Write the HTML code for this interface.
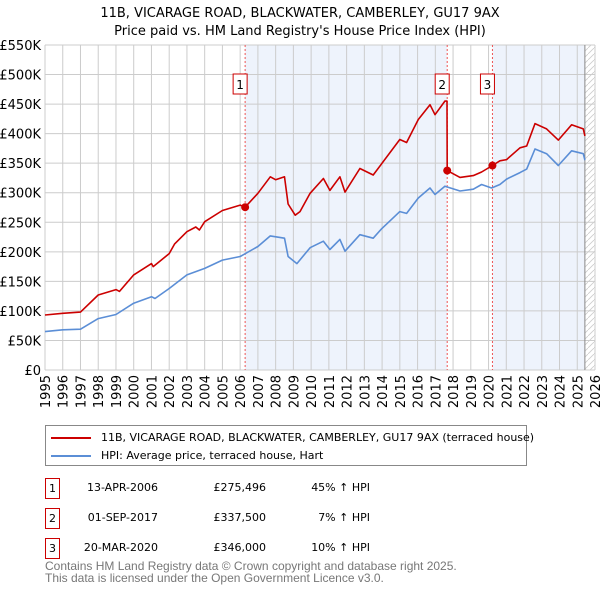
<!DOCTYPE html>
<html><head><meta charset="utf-8"><style>
body{margin:0;background:#fff;font-family:"DejaVu Sans","Liberation Sans",sans-serif;}
svg text{font-family:"DejaVu Sans","Liberation Sans",sans-serif;}
</style></head><body>
<svg id="c" width="600" height="590" xmlns="http://www.w3.org/2000/svg"></svg>
<script>
const hpiYears=[1995,1996,1997,1998,1999,2000,2001,2001.2,2002,2003,2004,2005,2006,2007,2007.7,2008.5,2008.7,2009.2,2009.94,2010.69,2011.06,2011.62,2011.91,2012.75,2013.5,2013.97,2015.0,2015.38,2016.04,2016.7,2016.98,2017.54,2018.39,2019.14,2019.61,2020.17,2020.64,2021.02,2021.77,2022.15,2022.62,2023.27,2023.93,2024.68,2025.34,2025.43];
const hpiValues=[65,68,69,87,94,113,124,121,138,161,172,186,192,209,227,223,192,180,207,218,204,221,201,229,223,239,268,265,291,308,297,311,303,306,314,308,314,323,334,340,374,366,346,371,366,355];
const redYears=[1995,1996,1997,1998,1999,1999.2,2000,2001,2001.1,2002,2002.3,2003,2003.5,2003.7,2004,2005,2006,2006.28,2007,2007.7,2008,2008.5,2008.7,2009.1,2009.37,2009.94,2010.69,2011.06,2011.62,2011.91,2012.75,2013.5,2013.97,2015.0,2015.38,2016.04,2016.7,2016.98,2017.54,2017.66,2017.67,2018.39,2019.14,2019.61,2020.22,2020.64,2021.02,2021.77,2022.15,2022.62,2023.27,2023.93,2024.68,2025.34,2025.43];
const redValues=[93,96,98,127,136,133,161,180,175,197,213,234,242,237,251,270,279,275.5,299,327,322,327,281,262,268,299,324,304,327,301,341,330,349,390,385,424,449,432,455,455,337.5,326,329,335,346,354,356,376,379,417,408,389,415,408,396];
const saleYears=[2006.28,2017.67,2020.22];
const saleValues=[275.496,337.5,346];
const saleLabels=["1","2","3"];
const yTicks=[0,50,100,150,200,250,300,350,400,450,500,550];
const yTickLabels=["£0","£50K","£100K","£150K","£200K","£250K","£300K","£350K","£400K","£450K","£500K","£550K"];
const xTicks=[1995,1996,1997,1998,1999,2000,2001,2002,2003,2004,2005,2006,2007,2008,2009,2010,2011,2012,2013,2014,2015,2016,2017,2018,2019,2020,2021,2022,2023,2024,2025,2026];

const NS="http://www.w3.org/2000/svg";
const svg=document.getElementById('c');
const X0=45,X1=595,Y0=370,Y1=45;
const x=v=>X0+(v-1995)/(2026-1995)*(X1-X0);
const y=v=>Y0-v/550*(Y0-Y1);
function el(t,a,p){const e=document.createElementNS(NS,t);for(const k in a)e.setAttribute(k,a[k]);(p||svg).appendChild(e);return e;}

let t=el('text',{x:300,y:17,'text-anchor':'middle','font-size':13,fill:'#000'});t.textContent="11B, VICARAGE ROAD, BLACKWATER, CAMBERLEY, GU17 9AX";


t=el('text',{x:300,y:35,'text-anchor':'middle','font-size':13,fill:'#000'});t.textContent="Price paid vs. HM Land Registry's House Price Index (HPI)";



const defs=el('defs',{});
const pat=el('pattern',{id:'h',width:6,height:6,patternUnits:'userSpaceOnUse'},defs);
el('path',{d:'M0,6 L6,0',stroke:'#ccc','stroke-width':0.8},pat);

let r=el('rect',{x:x(saleYears[0]),y:Y1,width:x(saleYears[1])-x(saleYears[0]),height:Y0-Y1,fill:'#eef3fc'});


r=el('rect',{x:x(saleYears[2]),y:Y1,width:x(2025.43)-x(saleYears[2]),height:Y0-Y1,fill:'#eef3fc'});


r=el('rect',{x:x(2025.43),y:Y1,width:X1-x(2025.43),height:Y0-Y1,fill:'url(#h)'});



yTicks.forEach((v,i)=>{
 const l=el('line',{x1:X0,x2:X1,y1:y(v),y2:y(v),stroke:'#cccccc','stroke-width':1});
 
 
 const tx=el('text',{x:X0-4,y:y(v)+5,'text-anchor':'end','font-size':13,fill:'#000'});tx.textContent=yTickLabels[i];
 
 
});
xTicks.forEach(v=>{
 const l=el('line',{x1:x(v),x2:x(v),y1:Y1,y2:Y0,stroke:'#cccccc','stroke-width':1});
 
 
 const tx=el('text',{x:0,y:0,'text-anchor':'end','font-size':13,fill:'#000',transform:`translate(${x(v)+5},${Y0+5}) rotate(-90)`});tx.textContent=v;
 
 
});
let ln=el('line',{x1:x(2025.43),x2:x(2025.43),y1:Y1,y2:Y0,stroke:'#888','stroke-width':1});



saleYears.forEach((v,i)=>{
 const l=el('line',{x1:x(v),x2:x(v),y1:Y1,y2:Y0,stroke:'#ee5555','stroke-width':1,'stroke-dasharray':'2,2'});
 
 
 const b=el('rect',{x:x(v)-12,y:74,width:14,height:20,fill:'#fff',stroke:'#cc0000','stroke-width':1});
 
 
 const tx=el('text',{x:x(v)-5,y:89,'text-anchor':'middle','font-size':12,fill:'#000'});tx.textContent=saleLabels[i];
 
 
});

function line(xs,vs,c,name){
 const p=el('polyline',{points:xs.map((v,i)=>x(v).toFixed(1)+','+y(vs[i]).toFixed(1)).join(' '),fill:'none',stroke:c,'stroke-width':1.6,'stroke-linejoin':'round'});
 
 
}
line(hpiYears,hpiValues,'#5b8ed6','hpi-line');
line(redYears,redValues,'#cc0000','price-paid-line');
saleYears.forEach((v,i)=>{
 const c=el('circle',{cx:x(v),cy:y(saleValues[i]),r:4,fill:'#cc0000'});
 
 
});
</script>
<div style="position:absolute;left:45px;top:425px;width:482px;height:41px;border:1px solid #888;box-sizing:border-box;font-size:11px;">
 <div style="position:absolute;left:5px;top:5px;white-space:nowrap;"><span style="display:inline-block;width:40px;height:2px;background:#cc0000;vertical-align:middle;margin-right:10px;"></span>11B, VICARAGE ROAD, BLACKWATER, CAMBERLEY, GU17 9AX (terraced house)</div>
 <div style="position:absolute;left:5px;top:23px;white-space:nowrap;"><span style="display:inline-block;width:40px;height:2px;background:#5b8ed6;vertical-align:middle;margin-right:10px;"></span>HPI: Average price, terraced house, Hart</div>
</div>
<div style="position:absolute;left:0;top:0;font-size:11px;">
 <div>
  <div style="position:absolute;left:45px;top:478px;width:13px;height:19px;border:1px solid #cc0000;text-align:center;line-height:19px;">1</div>
  <div style="position:absolute;left:60px;top:481px;width:98px;text-align:right;">13-APR-2006</div>
  <div style="position:absolute;left:170px;top:481px;width:96px;text-align:right;">£275,496</div>
  <div style="position:absolute;left:270px;top:481px;width:100px;text-align:right;">45% ↑ HPI</div>
 </div>
 <div>
  <div style="position:absolute;left:45px;top:508px;width:13px;height:19px;border:1px solid #cc0000;text-align:center;line-height:19px;">2</div>
  <div style="position:absolute;left:60px;top:511px;width:98px;text-align:right;">01-SEP-2017</div>
  <div style="position:absolute;left:170px;top:511px;width:96px;text-align:right;">£337,500</div>
  <div style="position:absolute;left:270px;top:511px;width:100px;text-align:right;">7% ↑ HPI</div>
 </div>
 <div>
  <div style="position:absolute;left:45px;top:538px;width:13px;height:19px;border:1px solid #cc0000;text-align:center;line-height:19px;">3</div>
  <div style="position:absolute;left:60px;top:541px;width:98px;text-align:right;">20-MAR-2020</div>
  <div style="position:absolute;left:170px;top:541px;width:96px;text-align:right;">£346,000</div>
  <div style="position:absolute;left:270px;top:541px;width:100px;text-align:right;">10% ↑ HPI</div>
 </div>
</div>
<div style="position:absolute;left:45px;top:560px;font-family:'Liberation Sans',sans-serif;font-size:12px;color:#777;line-height:12px;">Contains HM Land Registry data © Crown copyright and database right 2025.<br>This data is licensed under the Open Government Licence v3.0.</div>
</body></html>
